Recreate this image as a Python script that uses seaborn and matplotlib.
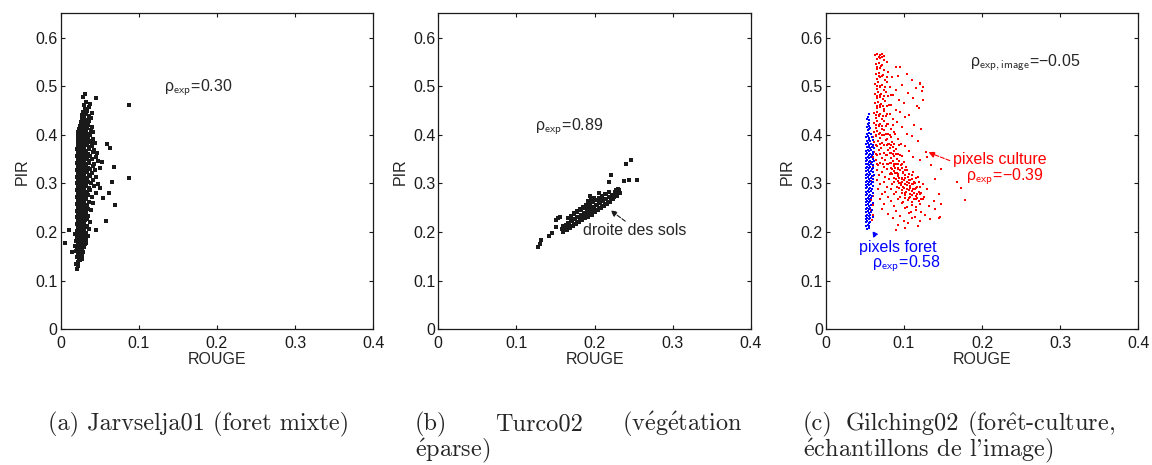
import pandas as pd
import matplotlib.pyplot as plt
import seaborn as sns

# PANEL A : Jarvselja01 (foret mixte)
jarv_rouge = [
    0.021,
    0.023, 0.020,
    0.022, 0.025,
    0.024, 0.021, 0.027,
    0.022, 0.025, 0.028,
    0.023, 0.026, 0.029, 0.020,
    0.021, 0.024, 0.027, 0.030,
    0.022, 0.025, 0.028, 0.031, 0.019,
    0.020, 0.023, 0.026, 0.029, 0.032,
    0.021, 0.024, 0.027, 0.030, 0.033,
    0.022, 0.025, 0.028, 0.031, 0.035, 0.019,
    0.021, 0.024, 0.027, 0.030, 0.033,
    0.022, 0.025, 0.028, 0.032, 0.036,
    0.021, 0.024, 0.027, 0.030, 0.034,
    0.022, 0.025, 0.028, 0.031, 0.038,
    0.021, 0.024, 0.027, 0.030, 0.034,
    0.022, 0.025, 0.028, 0.031, 0.035,
    0.021, 0.024, 0.027, 0.030, 0.033, 0.039,
    0.022, 0.025, 0.028, 0.031, 0.035,
    0.021, 0.024, 0.027, 0.030, 0.034, 0.042,
    0.022, 0.025, 0.028, 0.031, 0.036,
    0.021, 0.024, 0.027, 0.030, 0.033, 0.040,
    0.022, 0.025, 0.028, 0.031, 0.035, 0.046,
    0.021, 0.024, 0.027, 0.030, 0.034, 0.038,
    0.022, 0.025, 0.028, 0.031, 0.036, 0.043,
    0.021, 0.024, 0.027, 0.030, 0.033, 0.039, 0.048,
    0.022, 0.025, 0.028, 0.031, 0.035, 0.041,
    0.021, 0.024, 0.027, 0.030, 0.034, 0.038, 0.045,
    0.022, 0.025, 0.028, 0.032, 0.036, 0.040,
    0.021, 0.024, 0.027, 0.030, 0.034, 0.038, 0.044, 0.051,
    0.022, 0.025, 0.028, 0.031, 0.035, 0.041,
    0.021, 0.024, 0.027, 0.030, 0.033, 0.037, 0.043, 0.048,
    0.022, 0.025, 0.028, 0.032, 0.036, 0.040,
    0.021, 0.024, 0.027, 0.030, 0.034, 0.038, 0.045,
    0.022, 0.025, 0.028, 0.031, 0.035, 0.041, 0.047,
    0.021, 0.024, 0.027, 0.030, 0.033, 0.037, 0.043,
    0.022, 0.025, 0.028, 0.032, 0.036, 0.040,
    0.022, 0.025, 0.028, 0.031, 0.034, 0.039, 0.044,
    0.023, 0.026, 0.029, 0.032, 0.036, 0.041,
    0.022, 0.025, 0.028, 0.031, 0.035, 0.038,
    0.023, 0.026, 0.029, 0.033, 0.037, 0.042,
    0.024, 0.027, 0.030, 0.034, 0.039,
    0.025, 0.028, 0.031, 0.035, 0.040,
    0.026, 0.029, 0.033, 0.037,
    0.027, 0.030, 0.034, 0.039,
    0.028, 0.032, 0.036,
    0.029, 0.034, 0.040,
    0.031, 0.036,
    0.030, 0.038,
    0.033,
    0.029, 0.045,
    0.031,
    0.088, 0.087, 0.068, 0.066, 0.059, 0.063, 0.058, 0.070,
    0.006, 0.015, 0.011, 0.062, 0.055, 0.050, 0.053, 0.046,
]
jarv_pir = [
    0.124,
    0.131, 0.134,
    0.139, 0.142,
    0.146, 0.149, 0.144,
    0.153, 0.156, 0.151,
    0.160, 0.163, 0.158, 0.162,
    0.167, 0.170, 0.165, 0.169,
    0.174, 0.177, 0.172, 0.176, 0.171,
    0.181, 0.184, 0.179, 0.183, 0.178,
    0.188, 0.191, 0.186, 0.190, 0.185,
    0.195, 0.198, 0.193, 0.197, 0.192, 0.196,
    0.202, 0.205, 0.200, 0.204, 0.199,
    0.209, 0.212, 0.207, 0.211, 0.206,
    0.216, 0.219, 0.214, 0.218, 0.213,
    0.223, 0.226, 0.221, 0.225, 0.220,
    0.230, 0.233, 0.228, 0.232, 0.227,
    0.237, 0.240, 0.235, 0.239, 0.234,
    0.244, 0.247, 0.242, 0.246, 0.241, 0.245,
    0.251, 0.254, 0.249, 0.253, 0.248,
    0.258, 0.261, 0.256, 0.260, 0.255, 0.259,
    0.265, 0.268, 0.263, 0.267, 0.262,
    0.272, 0.275, 0.270, 0.274, 0.269, 0.273,
    0.279, 0.282, 0.277, 0.281, 0.276, 0.280,
    0.286, 0.289, 0.284, 0.288, 0.283, 0.287,
    0.293, 0.296, 0.291, 0.295, 0.290, 0.294,
    0.300, 0.303, 0.298, 0.302, 0.297, 0.301, 0.299,
    0.307, 0.310, 0.305, 0.309, 0.304, 0.308,
    0.314, 0.317, 0.312, 0.316, 0.311, 0.315, 0.313,
    0.321, 0.324, 0.319, 0.323, 0.318, 0.322,
    0.328, 0.331, 0.326, 0.330, 0.325, 0.329, 0.327, 0.332,
    0.335, 0.338, 0.333, 0.337, 0.332, 0.336,
    0.342, 0.345, 0.340, 0.344, 0.339, 0.343, 0.341, 0.346,
    0.349, 0.352, 0.347, 0.351, 0.346, 0.350,
    0.356, 0.359, 0.354, 0.358, 0.353, 0.357, 0.355,
    0.363, 0.366, 0.361, 0.365, 0.360, 0.364, 0.362,
    0.370, 0.373, 0.368, 0.372, 0.367, 0.371, 0.369,
    0.377, 0.380, 0.375, 0.379, 0.374, 0.378,
    0.384, 0.387, 0.382, 0.386, 0.381, 0.385, 0.383,
    0.391, 0.394, 0.389, 0.393, 0.388, 0.392,
    0.398, 0.401, 0.396, 0.400, 0.395, 0.399,
    0.405, 0.408, 0.403, 0.407, 0.402, 0.406,
    0.412, 0.415, 0.410, 0.414, 0.409,
    0.419, 0.422, 0.417, 0.421, 0.416,
    0.426, 0.429, 0.424, 0.428,
    0.433, 0.436, 0.431, 0.435,
    0.440, 0.443, 0.438,
    0.447, 0.450, 0.445,
    0.454, 0.457,
    0.461, 0.464,
    0.468,
    0.477, 0.475,
    0.484,
    0.462, 0.311, 0.333, 0.302, 0.381, 0.372, 0.223, 0.255,
    0.178, 0.160, 0.205, 0.280, 0.270, 0.290, 0.345, 0.205,
]

# PANEL B : Turco02 (vegetation eparse)
sols_rouge = [
    0.160, 0.161, 0.159,
    0.164, 0.165, 0.163, 0.166,
    0.168, 0.169, 0.167, 0.170, 0.166,
    0.172, 0.173, 0.171, 0.174, 0.170, 0.173,
    0.176, 0.177, 0.175, 0.178, 0.174, 0.177,
    0.180, 0.181, 0.179, 0.182, 0.178, 0.181,
    0.184, 0.185, 0.183, 0.186, 0.182, 0.185,
    0.188, 0.189, 0.187, 0.190, 0.186, 0.189,
    0.192, 0.193, 0.191, 0.194, 0.190, 0.193, 0.191,
    0.196, 0.197, 0.195, 0.198, 0.194, 0.197, 0.195,
    0.200, 0.201, 0.199, 0.202, 0.198, 0.201, 0.199,
    0.204, 0.205, 0.203, 0.206, 0.202, 0.205,
    0.208, 0.209, 0.207, 0.210, 0.206, 0.209,
    0.212, 0.213, 0.211, 0.214, 0.210, 0.213,
    0.216, 0.217, 0.215, 0.218, 0.214,
    0.220, 0.221, 0.219, 0.222, 0.218,
    0.224, 0.225, 0.223, 0.226,
    0.228, 0.229, 0.227,
    0.232, 0.231,
    0.128, 0.130, 0.132, 0.141, 0.150, 0.156, 0.158, 0.150, 0.146, 0.153,
    0.194, 0.205, 0.218, 0.221, 0.237, 0.244, 0.254, 0.240, 0.246, 0.226, 0.230,
]
sols_pir = [
    0.201, 0.207, 0.212,
    0.204, 0.209, 0.214, 0.219,
    0.208, 0.213, 0.218, 0.224, 0.229,
    0.212, 0.217, 0.222, 0.227, 0.233, 0.239,
    0.216, 0.221, 0.226, 0.231, 0.237, 0.244,
    0.220, 0.225, 0.230, 0.235, 0.241, 0.248,
    0.224, 0.229, 0.234, 0.239, 0.245, 0.252,
    0.228, 0.233, 0.238, 0.243, 0.249, 0.256,
    0.232, 0.237, 0.242, 0.247, 0.252, 0.258, 0.263,
    0.236, 0.241, 0.246, 0.251, 0.256, 0.261, 0.266,
    0.241, 0.246, 0.251, 0.256, 0.261, 0.266, 0.270,
    0.245, 0.250, 0.255, 0.260, 0.265, 0.271,
    0.249, 0.254, 0.259, 0.264, 0.269, 0.275,
    0.253, 0.258, 0.263, 0.268, 0.273, 0.278,
    0.257, 0.262, 0.267, 0.272, 0.278,
    0.262, 0.267, 0.272, 0.277, 0.283,
    0.267, 0.272, 0.277, 0.283,
    0.274, 0.280, 0.286,
    0.280, 0.286,
    0.169, 0.176, 0.184, 0.191, 0.210, 0.232, 0.207, 0.224, 0.198, 0.228,
    0.275, 0.280, 0.302, 0.317, 0.306, 0.307, 0.307, 0.341, 0.348, 0.283, 0.288,
]

# PANEL C : Gilching02, pixels culture (rouge) et pixels foret (bleu)
culture_rouge = [
    0.063, 0.066, 0.069, 0.072, 0.075,
    0.065, 0.070, 0.074,
    0.064, 0.068, 0.072, 0.078,
    0.066, 0.070, 0.075, 0.090,
    0.064, 0.068, 0.073, 0.080, 0.093, 0.104,
    0.066, 0.070, 0.076, 0.085, 0.110,
    0.063, 0.067, 0.072, 0.079, 0.098, 0.120,
    0.065, 0.069, 0.074, 0.082, 0.090, 0.115, 0.123,
    0.063, 0.067, 0.071, 0.077, 0.086, 0.105,
    0.065, 0.069, 0.073, 0.080, 0.094, 0.112, 0.125,
    0.063, 0.067, 0.071, 0.076, 0.084, 0.100,
    0.065, 0.069, 0.074, 0.079, 0.090, 0.119,
    0.062, 0.066, 0.070, 0.075, 0.082, 0.095, 0.107,
    0.064, 0.068, 0.072, 0.077, 0.086, 0.101,
    0.062, 0.066, 0.070, 0.074, 0.080, 0.091, 0.113,
    0.064, 0.068, 0.072, 0.077, 0.084, 0.097, 0.122,
    0.062, 0.066, 0.070, 0.075, 0.080, 0.087, 0.104,
    0.060, 0.064, 0.069, 0.074, 0.079, 0.083, 0.092, 0.110,
    0.062, 0.067, 0.072, 0.077, 0.081, 0.085, 0.096, 0.118,
    0.060, 0.065, 0.071, 0.078, 0.082, 0.086, 0.090, 0.101,
    0.062, 0.068, 0.074, 0.080, 0.084, 0.088, 0.093, 0.106, 0.128,
    0.060, 0.066, 0.072, 0.079, 0.083, 0.087, 0.091, 0.097, 0.112,
    0.058, 0.064, 0.070, 0.076, 0.082, 0.086, 0.090, 0.094, 0.100, 0.120,
    0.060, 0.067, 0.074, 0.080, 0.084, 0.088, 0.092, 0.096, 0.103, 0.135,
    0.058, 0.065, 0.072, 0.078, 0.083, 0.087, 0.091, 0.095, 0.099, 0.104, 0.112,
    0.060, 0.068, 0.076, 0.082, 0.088, 0.093, 0.097, 0.101, 0.105, 0.110, 0.118,
    0.058, 0.066, 0.074, 0.081, 0.087, 0.092, 0.096, 0.100, 0.104, 0.108, 0.113, 0.140,
    0.060, 0.070, 0.078, 0.085, 0.091, 0.096, 0.100, 0.104, 0.108, 0.112, 0.117, 0.124,
    0.058, 0.067, 0.076, 0.083, 0.090, 0.097, 0.102, 0.106, 0.110, 0.114, 0.119, 0.130,
    0.060, 0.072, 0.080, 0.088, 0.095, 0.101, 0.106, 0.111, 0.115, 0.120, 0.126, 0.145,
    0.058, 0.070, 0.083, 0.092, 0.099, 0.105, 0.110, 0.115, 0.119, 0.124, 0.138,
    0.060, 0.075, 0.087, 0.097, 0.104, 0.110, 0.116, 0.121, 0.132, 0.148,
    0.058, 0.072, 0.090, 0.102, 0.109, 0.115, 0.122, 0.140,
    0.060, 0.080, 0.095, 0.107, 0.114, 0.127, 0.146,
    0.059, 0.086, 0.100, 0.110, 0.120, 0.134,
    0.092, 0.105, 0.118,
    0.090, 0.101,
    0.085, 0.089, 0.093, 0.097, 0.101,
    0.085, 0.089, 0.093, 0.099, 0.102, 0.107,
    0.090, 0.094, 0.098, 0.102, 0.106, 0.111, 0.115,
    0.094, 0.098, 0.102, 0.106, 0.110, 0.114, 0.119,
    0.094, 0.099, 0.104, 0.108, 0.112, 0.116, 0.121,
    0.098, 0.103, 0.108, 0.113, 0.117, 0.122,
    0.102, 0.108, 0.113, 0.117, 0.122,
    0.068, 0.072,
    0.066, 0.071,
    0.068, 0.072, 0.078,
    0.066, 0.070, 0.076,
    0.066, 0.070, 0.075, 0.083,
    0.066, 0.070, 0.073, 0.081,
    0.064, 0.068, 0.073, 0.079,
    0.064, 0.068, 0.072, 0.078, 0.086,
    0.064, 0.068, 0.072, 0.077, 0.082, 0.089,
    0.064, 0.069, 0.075, 0.080, 0.084, 0.088, 0.094,
    0.064, 0.070, 0.077, 0.082, 0.086, 0.090, 0.095,
    0.066, 0.073, 0.079, 0.084, 0.088, 0.092, 0.098,
    0.168, 0.173, 0.178, 0.148, 0.117, 0.121, 0.125, 0.095, 0.130, 0.145,
]
culture_pir = [
    0.565, 0.566, 0.564, 0.566, 0.563,
    0.555, 0.558, 0.553,
    0.545, 0.548, 0.543, 0.549,
    0.535, 0.538, 0.533, 0.539,
    0.525, 0.528, 0.523, 0.529, 0.522, 0.526,
    0.515, 0.518, 0.513, 0.519, 0.512,
    0.505, 0.508, 0.503, 0.509, 0.502, 0.506,
    0.495, 0.498, 0.493, 0.499, 0.492, 0.496, 0.491,
    0.485, 0.488, 0.483, 0.489, 0.482, 0.486,
    0.475, 0.478, 0.473, 0.479, 0.472, 0.476, 0.471,
    0.465, 0.468, 0.463, 0.469, 0.462, 0.466,
    0.455, 0.458, 0.453, 0.459, 0.452, 0.456,
    0.445, 0.448, 0.443, 0.449, 0.442, 0.446, 0.441,
    0.435, 0.438, 0.433, 0.439, 0.432, 0.436,
    0.425, 0.428, 0.423, 0.429, 0.422, 0.426, 0.421,
    0.415, 0.418, 0.413, 0.419, 0.412, 0.416, 0.411,
    0.405, 0.408, 0.403, 0.409, 0.402, 0.406, 0.401,
    0.395, 0.398, 0.393, 0.399, 0.392, 0.396, 0.391, 0.397,
    0.385, 0.388, 0.383, 0.389, 0.382, 0.386, 0.381, 0.387,
    0.375, 0.378, 0.373, 0.379, 0.372, 0.376, 0.371, 0.377,
    0.365, 0.368, 0.363, 0.369, 0.362, 0.366, 0.361, 0.367, 0.364,
    0.355, 0.358, 0.353, 0.359, 0.352, 0.356, 0.351, 0.357, 0.354,
    0.345, 0.348, 0.343, 0.349, 0.342, 0.346, 0.341, 0.347, 0.344, 0.348,
    0.335, 0.338, 0.333, 0.339, 0.332, 0.336, 0.331, 0.337, 0.334, 0.338,
    0.325, 0.328, 0.323, 0.329, 0.322, 0.326, 0.321, 0.327, 0.324, 0.328, 0.323,
    0.315, 0.318, 0.313, 0.319, 0.312, 0.316, 0.311, 0.317, 0.314, 0.318, 0.313,
    0.305, 0.308, 0.303, 0.309, 0.302, 0.306, 0.301, 0.307, 0.304, 0.308, 0.303, 0.309,
    0.295, 0.298, 0.293, 0.299, 0.292, 0.296, 0.291, 0.297, 0.294, 0.298, 0.293, 0.299,
    0.285, 0.288, 0.283, 0.289, 0.282, 0.286, 0.281, 0.287, 0.284, 0.288, 0.283, 0.289,
    0.275, 0.278, 0.273, 0.279, 0.272, 0.276, 0.271, 0.277, 0.274, 0.278, 0.273, 0.279,
    0.265, 0.268, 0.263, 0.269, 0.262, 0.266, 0.261, 0.267, 0.264, 0.268, 0.263,
    0.255, 0.258, 0.253, 0.259, 0.252, 0.256, 0.251, 0.257, 0.254, 0.258,
    0.245, 0.248, 0.243, 0.249, 0.242, 0.246, 0.241, 0.247,
    0.235, 0.238, 0.233, 0.239, 0.232, 0.236, 0.231,
    0.225, 0.228, 0.223, 0.229, 0.222, 0.226,
    0.215, 0.218, 0.213,
    0.205, 0.208,
    0.330, 0.332, 0.329, 0.331, 0.328,
    0.320, 0.322, 0.319, 0.321, 0.318, 0.320,
    0.310, 0.312, 0.309, 0.311, 0.308, 0.310, 0.312,
    0.300, 0.302, 0.299, 0.301, 0.298, 0.300, 0.302,
    0.290, 0.292, 0.289, 0.291, 0.288, 0.290, 0.292,
    0.280, 0.282, 0.279, 0.281, 0.278, 0.280,
    0.270, 0.272, 0.269, 0.271, 0.268,
    0.560, 0.561,
    0.540, 0.541,
    0.520, 0.521, 0.519,
    0.500, 0.501, 0.499,
    0.480, 0.481, 0.479, 0.482,
    0.460, 0.461, 0.459, 0.462,
    0.440, 0.441, 0.439, 0.442,
    0.420, 0.421, 0.419, 0.422, 0.420,
    0.400, 0.401, 0.399, 0.402, 0.400, 0.401,
    0.380, 0.381, 0.379, 0.382, 0.380, 0.381, 0.379,
    0.360, 0.361, 0.359, 0.362, 0.360, 0.361, 0.359,
    0.340, 0.341, 0.339, 0.342, 0.340, 0.341, 0.339,
    0.302, 0.290, 0.266, 0.330, 0.460, 0.505, 0.498, 0.540, 0.355, 0.229,
]
foret_rouge = [
    0.055,
    0.054,
    0.055, 0.053,
    0.054, 0.056,
    0.053, 0.055, 0.057,
    0.054, 0.056,
    0.053, 0.055, 0.058,
    0.052, 0.054, 0.056, 0.059,
    0.053, 0.055, 0.057, 0.060,
    0.052, 0.054, 0.056, 0.058, 0.061,
    0.053, 0.055, 0.057, 0.059, 0.062,
    0.052, 0.054, 0.056, 0.058, 0.060,
    0.051, 0.053, 0.055, 0.057, 0.059, 0.061,
    0.052, 0.054, 0.056, 0.058, 0.060,
    0.051, 0.053, 0.055, 0.057, 0.059, 0.062,
    0.052, 0.054, 0.056, 0.058, 0.060,
    0.051, 0.053, 0.055, 0.057, 0.059, 0.061,
    0.052, 0.054, 0.056, 0.058, 0.060,
    0.051, 0.053, 0.055, 0.057, 0.059, 0.062,
    0.052, 0.054, 0.056, 0.058, 0.060,
    0.051, 0.053, 0.055, 0.057, 0.059, 0.061,
    0.052, 0.054, 0.056, 0.058, 0.060,
    0.051, 0.053, 0.055, 0.057, 0.059,
    0.052, 0.054, 0.056, 0.058, 0.060,
    0.051, 0.053, 0.055, 0.057, 0.059,
    0.052, 0.054, 0.056, 0.058,
    0.051, 0.053, 0.055, 0.057, 0.060,
    0.052, 0.054, 0.056, 0.058,
    0.051, 0.053, 0.055, 0.057, 0.059,
    0.052, 0.054, 0.056, 0.058,
    0.051, 0.053, 0.055, 0.057, 0.060,
    0.051, 0.053, 0.055, 0.057,
    0.051, 0.053, 0.055, 0.057,
    0.052, 0.054, 0.056,
    0.053, 0.055,
]
foret_pir = [
    0.442,
    0.436,
    0.430, 0.432,
    0.423, 0.425,
    0.416, 0.418, 0.415,
    0.409, 0.411,
    0.402, 0.404, 0.401,
    0.395, 0.397, 0.394, 0.396,
    0.388, 0.390, 0.387, 0.389,
    0.381, 0.383, 0.380, 0.382, 0.379,
    0.374, 0.376, 0.373, 0.375, 0.372,
    0.367, 0.369, 0.366, 0.368, 0.365,
    0.360, 0.362, 0.359, 0.361, 0.358, 0.360,
    0.353, 0.355, 0.352, 0.354, 0.351,
    0.346, 0.348, 0.345, 0.347, 0.344, 0.346,
    0.339, 0.341, 0.338, 0.340, 0.337,
    0.332, 0.334, 0.331, 0.333, 0.330, 0.332,
    0.325, 0.327, 0.324, 0.326, 0.323,
    0.318, 0.320, 0.317, 0.319, 0.316, 0.318,
    0.311, 0.313, 0.310, 0.312, 0.309,
    0.304, 0.306, 0.303, 0.305, 0.302, 0.304,
    0.297, 0.299, 0.296, 0.298, 0.295,
    0.290, 0.292, 0.289, 0.291, 0.288,
    0.283, 0.285, 0.282, 0.284, 0.281,
    0.276, 0.278, 0.275, 0.277, 0.274,
    0.269, 0.271, 0.268, 0.270,
    0.262, 0.264, 0.261, 0.263, 0.260,
    0.255, 0.257, 0.254, 0.256,
    0.248, 0.250, 0.247, 0.249, 0.246,
    0.241, 0.243, 0.240, 0.242,
    0.234, 0.236, 0.233, 0.235, 0.232,
    0.227, 0.229, 0.226, 0.228,
    0.220, 0.222, 0.219, 0.221,
    0.213, 0.215, 0.212,
    0.207, 0.209,
]

x_ticks = [0, 0.1, 0.2, 0.3, 0.4]
y_ticks = [0, 0.1, 0.2, 0.3, 0.4, 0.5, 0.6]

sns.set_theme(style="ticks")
plt.rcParams["font.family"] = ["Liberation Sans", "DejaVu Sans"]
plt.rcParams["mathtext.fontset"] = "cm"
FS = 11.5

fig = plt.figure(figsize=(11.52, 4.65), dpi=100)
lefts = [60.5, 438.3, 825.7]
axes = [fig.add_axes([l / 1152, 1 - 329.3 / 465, 312.7 / 1152, 316 / 465]) for l in lefts]


def style(ax):
    ax.set_xlim(0, 0.4)
    ax.set_ylim(0, 0.65)
    ax.set_xticks(x_ticks)
    ax.set_yticks(y_ticks)
    ax.set_xticklabels(["0", "0.1", "0.2", "0.3", "0.4"])
    ax.set_yticklabels(["0", "0.1", "0.2", "0.3", "0.4", "0.5", "0.6"])
    ax.tick_params(direction="in", top=True, right=True, length=3, width=0.8,
                   labelsize=FS, color="k", labelcolor="k")
    ax.tick_params(axis="x", pad=5)
    ax.tick_params(axis="y", pad=2)
    for s in ax.spines.values():
        s.set_visible(True)
        s.set_linewidth(0.9)
        s.set_color("k")
    ax.set_xlabel("ROUGE", fontsize=FS, labelpad=0.5)
    ax.set_ylabel("PIR", fontsize=FS, labelpad=4)


# (a)
ax = axes[0]
sns.scatterplot(data=pd.DataFrame({"ROUGE": jarv_rouge, "PIR": jarv_pir}), x="ROUGE", y="PIR",
                ax=ax, color="k", marker="s", s=5.5, linewidth=0)
ax.text(0.133, 0.489, r"ρ$_{\mathsf{exp}}$=0.30", fontsize=FS)
style(ax)

# (b)
ax = axes[1]
sns.scatterplot(data=pd.DataFrame({"ROUGE": sols_rouge, "PIR": sols_pir}), x="ROUGE", y="PIR",
                ax=ax, color="k", marker="s", s=6, linewidth=0)
ax.text(0.124, 0.409, r"ρ$_{\mathsf{exp}}$=0.89", fontsize=FS)
ax.text(0.185, 0.195, "droite des sols", fontsize=FS)
ax.annotate("", xy=(0.2175, 0.248), xytext=(0.242, 0.219),
            arrowprops=dict(arrowstyle="-|>", color="k", lw=0.8, ls="--", mutation_scale=9))
style(ax)

# (c)
ax = axes[2]
sns.scatterplot(data=pd.DataFrame({"ROUGE": culture_rouge, "PIR": culture_pir}), x="ROUGE", y="PIR",
                ax=ax, color="#ff0000", marker="s", s=4.5, linewidth=0)
sns.scatterplot(data=pd.DataFrame({"ROUGE": foret_rouge, "PIR": foret_pir}), x="ROUGE", y="PIR",
                ax=ax, color="#0000ff", marker="s", s=4.5, linewidth=0)
ax.text(0.184, 0.542, r"ρ$_{\mathsf{exp,image}}$=−0.05", fontsize=FS)
ax.text(0.163, 0.341, "pixels culture", fontsize=FS, color="#ff0000")
ax.text(0.180, 0.307, r"ρ$_{\mathsf{exp}}$=−0.39", fontsize=FS, color="#ff0000")
ax.annotate("", xy=(0.128, 0.366), xytext=(0.162, 0.345),
            arrowprops=dict(arrowstyle="-|>", color="#ff0000", lw=0.8, ls="--", mutation_scale=9))
ax.text(0.042, 0.159, "pixels foret", fontsize=FS, color="#0000ff")
ax.text(0.059, 0.128, r"ρ$_{\mathsf{exp}}$=0.58", fontsize=FS, color="#0000ff")
ax.annotate("", xy=(0.0575, 0.207), xytext=(0.066, 0.188),
            arrowprops=dict(arrowstyle="-|>", color="#0000ff", lw=0.8, ls="--", mutation_scale=8))
style(ax)

# captions
cap = dict(fontsize=17.5, family=["cmr10", "DejaVu Serif"], va="baseline")
E = r"$\mathrm{\acute{e}}$"
y1 = 1 - 430 / 465
y2 = 1 - 456 / 465
fig.text(48 / 1152, y1, "(a) Jarvselja01 (foret mixte)", **cap)
fig.text(415 / 1152, y1, "(b)", **cap)
fig.text(495 / 1152, y1, "Turco02", **cap)
fig.text(622 / 1152, y1, "(v" + E + "g" + E + "tation", **cap)
fig.text(415 / 1152, y2, E + "parse)", **cap)
fig.text(803 / 1152, y1, "(c)", **cap)
fig.text(846 / 1152, y1, "Gilching02", **cap)
fig.text(967 / 1152, y1, "(for" + r"$\mathrm{\hat{e}}$" + "t-culture,", **cap)
fig.text(803 / 1152, y2, E + "chantillons de l'image)", **cap)

fig.savefig("out.png", dpi=100)
